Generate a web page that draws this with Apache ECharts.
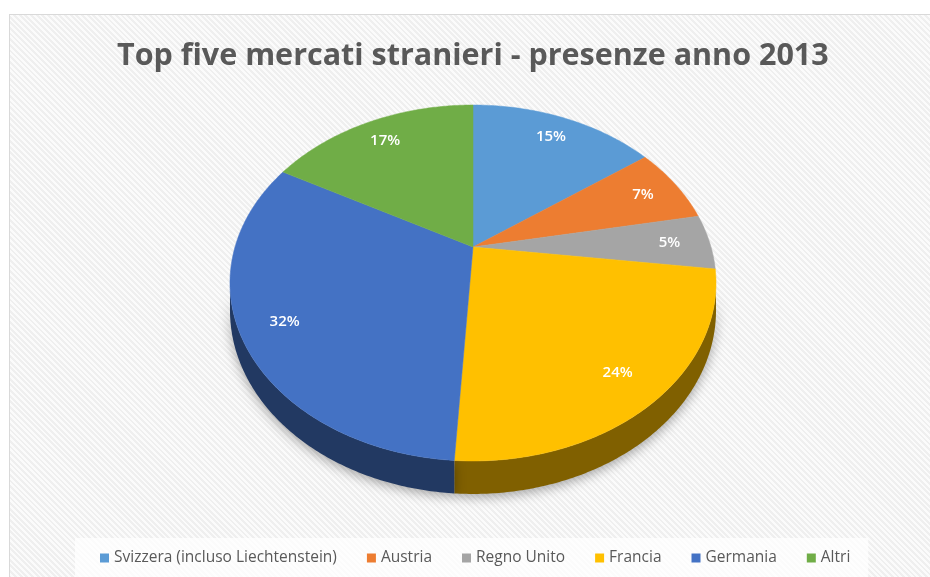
<!DOCTYPE html>
<html>
<head>
<meta charset="utf-8">
<script src="https://cdn.jsdelivr.net/npm/echarts@6/dist/echarts.min.js"></script>
<style>
  html, body { margin: 0; padding: 0; background: #fff; }
  #frame {
    position: absolute; left: 9px; top: 14px; width: 940px; height: 580px;
    border: 1px solid #d9d9d9;
    background: repeating-linear-gradient(45deg, #efefef 0px, #efefef 2px, #fbfbfb 2px, #fbfbfb 4px);
  }
  #chart { position: absolute; left: 0; top: 0; width: 930px; height: 577px; }
</style>
</head>
<body>
<div id="frame"></div>
<div id="chart"></div>
<script>
const titleText = "Top five mercati stranieri - presenze anno 2013";
const categories = ["Svizzera (incluso Liechtenstein)", "Austria", "Regno Unito", "Francia", "Germania", "Altri"];
const shares = [15, 7, 5, 24, 32, 17];
const colors = ["#5B9BD5", "#ED7D31", "#A5A5A5", "#FFC000", "#4472C4", "#70AD47"];

// perspective pie: apex position, radii, tilt factor, side thickness
const CX = 473, CY = 247;
const RX = 238, RY = 170.7, K = 0.2022, DEPTH = 26.3;
const LABEL_R = 0.83;
const total = shares.reduce((a, b) => a + b, 0);

function project(theta, rho, drop) {
  const u = -rho * Math.cos(theta);
  const d = 1 - K * u;
  return [CX + RX * rho * Math.sin(theta) / d, CY + (RY * u + drop) / d];
}

function shade(hex, f) {
  const n = parseInt(hex.slice(1), 16);
  const r = Math.round(((n >> 16) & 255) * f);
  const g = Math.round(((n >> 8) & 255) * f);
  const b = Math.round((n & 255) * f);
  return "rgb(" + r + "," + g + "," + b + ")";
}

// silhouette angles (outer side visible between them)
const SIL_R = Math.PI - Math.acos(K);
const SIL_L = Math.PI + Math.acos(K);

function renderSlice(params, api) {
  const i = params.seriesIndex;
  let before = 0;
  for (let j = 0; j < i; j++) before += shares[j];
  const value = api.value(0);
  const a0 = before / total * Math.PI * 2;
  const a1 = (before + value) / total * Math.PI * 2;
  const color = colors[i];
  const children = [];

  // outer side
  const s0 = Math.max(a0, SIL_R), s1 = Math.min(a1, SIL_L);
  if (s1 > s0) {
    const pts = [];
    const n = Math.max(2, Math.ceil((s1 - s0) / 0.01));
    for (let t = 0; t <= n; t++) pts.push(project(s0 + (s1 - s0) * t / n, 1, 0));
    for (let t = n; t >= 0; t--) pts.push(project(s0 + (s1 - s0) * t / n, 1, DEPTH));
    children.push({
      type: "polygon",
      z2: 1,
      shape: { points: pts },
      style: {
        fill: shade(color, 0.5),
        shadowBlur: 12,
        shadowColor: "rgba(0,0,0,0.35)",
        shadowOffsetY: 3
      }
    });
  }

  // top face
  const top = [[CX, CY]];
  const m = Math.max(2, Math.ceil((a1 - a0) / 0.01));
  for (let t = 0; t <= m; t++) top.push(project(a0 + (a1 - a0) * t / m, 1, 0));
  children.push({
    type: "polygon",
    z2: 10,
    shape: { points: top },
    style: { fill: color, stroke: color, lineWidth: 0.5 }
  });

  // percentage label
  const lp = project((a0 + a1) / 2, LABEL_R, 0);
  children.push({
    type: "text",
    z2: 20,
    x: lp[0],
    y: lp[1],
    style: {
      text: Math.round(value / total * 100) + "%",
      fill: "#ffffff",
      font: "600 15px 'Open Sans', sans-serif",
      align: "center",
      verticalAlign: "middle"
    }
  });
  return { type: "group", children: children };
}

const chart = echarts.init(document.getElementById("chart"));
chart.setOption({
  animation: false,
  color: colors,
  title: {
    text: titleText,
    left: 112,
    top: 36,
    textStyle: {
      fontFamily: "Open Sans",
      fontWeight: "bold",
      fontSize: 30.5,
      color: "#595959"
    }
  },
  legend: {
    data: categories,
    top: 538,
    left: 75,
    padding: [12, 18, 25, 25],
    backgroundColor: "rgba(255,255,255,0.75)",
    icon: "rect",
    itemWidth: 9,
    itemHeight: 9,
    itemGap: 30,
    textStyle: { fontFamily: "Open Sans", fontSize: 15.5, color: "#595959" }
  },
  series: categories.map((name, i) => ({
    name: name,
    type: "custom",
    coordinateSystem: "none",
    renderItem: renderSlice,
    data: [[shares[i]]]
  }))
});
</script>
</body>
</html>
